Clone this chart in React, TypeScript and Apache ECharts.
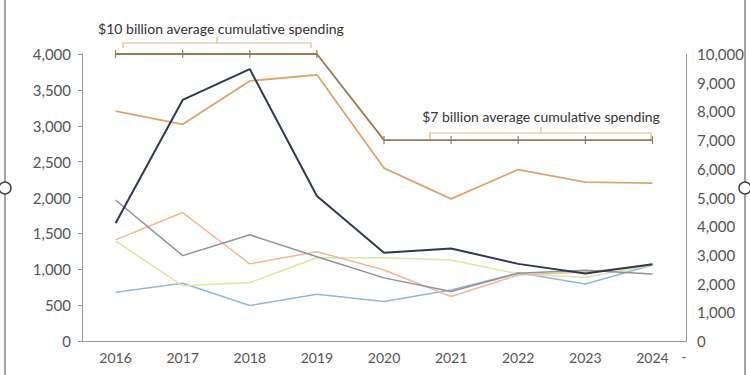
import React, { useEffect, useRef } from "react";
import * as echarts from "echarts";

const years = ["2016", "2017", "2018", "2019", "2020", "2021", "2022", "2023", "2024"];
const navy = [1640, 3360, 3790, 2020, 1230, 1290, 1075, 940, 1070];
const orange = [3205, 3020, 3625, 3710, 2410, 1980, 2390, 2215, 2200];
const gray = [1965, 1190, 1480, 1175, 880, 690, 945, 985, 935];
const salmon = [1410, 1790, 1075, 1245, 990, 620, 920, 960, 1060];
const lime = [1395, 770, 815, 1160, 1160, 1130, 935, 890, 1060];
const blue = [680, 805, 495, 650, 550, 710, 950, 795, 1060];
const spending = [10000, 10000, 10000, 10000, 7000, 7000, 7000, 7000, 7000];
const leftTicks = { min: 0, max: 4000, interval: 500 };
const rightTicks = { min: 0, max: 10000, interval: 1000 };
const note10 = "$10 billion average cumulative spending";
const note7 = "$7 billion average cumulative spending";

const FONT = "Lato, Liberation Sans, Arial, sans-serif";
const fmt = (v: number) => v.toLocaleString("en-US");

export default function App() {
  const ref = useRef<HTMLDivElement>(null);
  useEffect(() => {
    if (!ref.current) return;
    const chart = echarts.init(ref.current, null, { renderer: "svg" });
    const line = (data: number[], color: string, width: number, z = 2) => ({
      type: "line",
      data,
      yAxisIndex: 0,
      symbol: "none",
      z,
      lineStyle: { color, width },
    });
    const bracketColor = "#e2b98c";
    chart.setOption({
      animation: false,
      backgroundColor: "#ffffff",
      textStyle: { fontFamily: FONT },
      grid: { left: 82, right: 64, top: 54, bottom: 34, containLabel: false },
      xAxis: {
        type: "category",
        data: years,
        boundaryGap: true,
        axisLine: { lineStyle: { color: "#9a9a9a", width: 1 } },
        axisTick: { length: 5, lineStyle: { color: "#9a9a9a" } },
        axisLabel: { color: "#555", fontSize: 14, margin: 9, fontFamily: FONT },
      },
      yAxis: [
        {
          type: "value",
          ...leftTicks,
          axisLine: { show: true, lineStyle: { color: "#9a9a9a" } },
          axisTick: { show: true, length: 4, lineStyle: { color: "#9a9a9a" } },
          splitLine: { show: false },
          axisLabel: { color: "#555", fontSize: 15, margin: 11, formatter: fmt, fontFamily: FONT },
        },
        {
          type: "value",
          ...rightTicks,
          position: "right",
          axisLine: { show: true, lineStyle: { color: "#9a9a9a" } },
          axisTick: { show: false },
          splitLine: { show: false },
          axisLabel: { color: "#555", fontSize: 15, margin: 11, formatter: fmt, fontFamily: FONT },
        },
      ],
      series: [
        line(blue, "#8fbadb", 1.5),
        line(lime, "#dde7a0", 1.5),
        line(salmon, "#f1b997", 1.5),
        line(gray, "#8e929c", 1.5),
        line(orange, "#dfa46c", 1.8),
        line(navy, "#2f3a4f", 2, 3),
        {
          type: "line",
          data: spending,
          yAxisIndex: 1,
          symbol: "rect",
          symbolSize: [1.2, 8],
          showSymbol: true,
          itemStyle: { color: "#9a7a5a" },
          lineStyle: { color: "#9a7a5a", width: 1.8 },
          z: 4,
        },
      ],
      graphic: [
        { type: "line", shape: { x1: 5, y1: 0, x2: 5, y2: 375 }, style: { stroke: "#666", lineWidth: 1.2 } },
        { type: "line", shape: { x1: 745, y1: 0, x2: 745, y2: 375 }, style: { stroke: "#666", lineWidth: 1.2 } },
        { type: "circle", shape: { cx: 5, cy: 188, r: 6 }, style: { fill: "#fff", stroke: "#444", lineWidth: 1.5 } },
        { type: "circle", shape: { cx: 745, cy: 188, r: 6 }, style: { fill: "#fff", stroke: "#444", lineWidth: 1.5 } },
        {
          type: "polyline",
          shape: { points: [[123, 48], [123, 43], [311, 43], [311, 48]] },
          style: { stroke: bracketColor, lineWidth: 1.2, fill: null },
        },
        { type: "line", shape: { x1: 217, y1: 43, x2: 217, y2: 37 }, style: { stroke: bracketColor, lineWidth: 1.2 } },
        {
          type: "text",
          x: 221,
          y: 28,
          style: { text: note10, fill: "#333", font: `14px ${FONT}`, align: "center", verticalAlign: "middle" },
        },
        {
          type: "polyline",
          shape: { points: [[430, 139], [430, 133], [651, 133], [651, 139]] },
          style: { stroke: bracketColor, lineWidth: 1.2, fill: null },
        },
        { type: "line", shape: { x1: 541, y1: 133, x2: 541, y2: 127 }, style: { stroke: bracketColor, lineWidth: 1.2 } },
        {
          type: "text",
          x: 541,
          y: 116,
          style: { text: note7, fill: "#333", font: `14px ${FONT}`, align: "center", verticalAlign: "middle" },
        },
        {
          type: "text",
          x: 684,
          y: 357,
          style: { text: "-", fill: "#555", font: `13px ${FONT}`, align: "center", verticalAlign: "middle" },
        },
      ],
    });
    return () => chart.dispose();
  }, []);
  return <div ref={ref} style={{ width: 750, height: 375, position: "absolute", left: 0, top: 0 }} />;
}
